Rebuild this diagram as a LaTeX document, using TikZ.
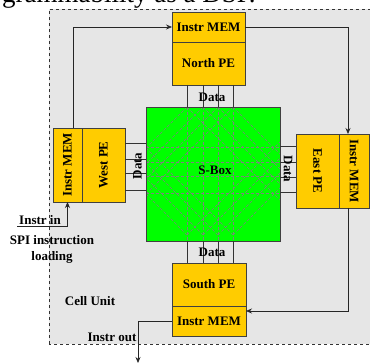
\documentclass[tikz,border=0pt]{standalone}
\usepackage{fontspec}
\setmainfont{Liberation Serif}
\usepackage{graphicx}
\usetikzlibrary{positioning,arrows.meta,calc}
\definecolor{peyellow}{HTML}{FFCC00}
\definecolor{sboxgreen}{HTML}{00FF00}
\definecolor{cellgray}{HTML}{E6E6E6}

\begin{document}
\begin{tikzpicture}[
    x=1pt, y=1pt,
    font=\fontsize{13}{16}\selectfont\bfseries,
    blk/.style={draw=black!75, line width=0.8pt, fill=peyellow, align=center,
                inner sep=0pt, outer sep=0pt},
    hblk/.style={blk, minimum width=73pt},
    vblk/.style={blk, minimum height=74pt},
    sboxst/.style={draw=black!75, line width=0.8pt, fill=sboxgreen,
                   minimum width=134pt, minimum height=134pt, inner sep=0pt, outer sep=0pt},
    sgrid/.style={black!50, dash pattern=on 3pt off 2pt, line width=0.6pt},
    datal/.style={black!80, line width=0.7pt},
    op/.style={-{Stealth[length=6pt,width=5pt]}, black!85, line width=0.7pt},
  ]
  \useasboundingbox (0,0) rectangle (370,364);

  % --- cell unit frame ---
  \draw[dashed, fill=cellgray, draw=black!80, line width=0.7pt] (49,20) rectangle (378,355);

  % --- north block ---
  \node[hblk, minimum height=30pt] (nmem) at (208.5,337) {Instr MEM};
  \node[hblk, minimum height=43pt, below=0pt of nmem] (npe) {North PE};

  % --- west block ---
  \node[vblk, minimum width=43pt] (wpe) at (103.5,199) {\rotatebox{90}{West PE}};
  \node[vblk, minimum width=29pt, left=0pt of wpe] (wmem) {\rotatebox{90}{Instr MEM}};

  % --- east block ---
  \node[vblk, minimum width=43pt] (epe) at (317.5,193) {\rotatebox{-90}{East PE}};
  \node[vblk, minimum width=30pt, right=0pt of epe] (emem) {\rotatebox{-90}{Instr MEM}};

  % --- south block ---
  \node[hblk, minimum width=74pt, minimum height=43pt] (spe) at (209,79.5) {South PE};
  \node[hblk, minimum width=74pt, minimum height=30pt, below=0pt of spe] (smem) {Instr MEM};

  % --- S-box with its dashed net ---
  \node[sboxst] (sbox) at (213,190) {};
  \begin{scope}
    \clip (sbox.south west) rectangle (sbox.north east);
    \foreach \dx in {-26,-10,5,20} {
      \draw[sgrid] ($(sbox.north)+(\dx,0)$) -- ($(sbox.south)+(\dx,0)$);
      \draw[sgrid] ($(sbox.north)+(\dx,0)$) -- ++(-150,-150);
      \draw[sgrid] ($(sbox.north)+(\dx,0)$) -- ++(150,-150);
      \draw[sgrid] ($(sbox.south)+(\dx,6)$) -- ++(-150,150);
      \draw[sgrid] ($(sbox.south)+(\dx,6)$) -- ++(150,150);
    }
    \foreach \yy in {217,202,188,171}
      \draw[sgrid] (sbox.west |- 0,\yy) -- (sbox.east |- 0,\yy);
  \end{scope}
  \draw[draw=black!75, line width=0.8pt] (sbox.south west) rectangle (sbox.north east);
  \node (sboxlbl) at ($(sbox.center)+(2,4)$) {S-Box};

  % --- data buses ---
  \foreach \x in {187,203,218,233} {
    \draw[datal] (npe.south -| \x,0) -- (sbox.north -| \x,0);
    \draw[datal] (sbox.south -| \x,0) -- (spe.north -| \x,0);
  }
  \foreach \y in {221,205,191,174}
    \draw[datal] (wpe.east |- 0,\y) -- (sbox.west |- 0,\y);
  \foreach \y in {218,202,187,172}
    \draw[datal] (sbox.east |- 0,\y) -- (epe.west |- 0,\y);

  \node (ndata) at (212,267) {Data};
  \node (sdata) at (212,112) {Data};
  \node (wdata) at (137.5,198) {\rotatebox{90}{Data}};
  \node (edata) at (288,195) {\rotatebox{-90}{Data}};

  % --- instruction ring ---
  \draw[op] ([xshift=5.5pt]wmem.north) |- (nmem.west);
  \draw[op] (nmem.east) -| ([xshift=-6pt]emem.north);
  \draw[op] ([xshift=-6pt]emem.south) |- ([yshift=10pt]smem.east);

  % --- instruction in / out ---
  \coordinate (iin) at (17,138);
  \draw[op] (iin) -| (wmem.south);
  \coordinate (iout) at (138,1);
  \draw[op] (smem.west) -| (iout);

  % --- labels ---
  \node (instrin) at (40,144) {Instr in};
  \node[align=center] (spi) at (52,115) {SPI instruction\\loading};
  \node (cellu) at (90,63) {Cell Unit};
  \node (instrout) at (112,27) {Instr out};
  \node[anchor=base west, inner sep=0pt, font=\fontsize{27}{30}\selectfont\mdseries] (capt)
    at (2,361.5) {grammability as a DSP.};
\end{tikzpicture}
\end{document}
